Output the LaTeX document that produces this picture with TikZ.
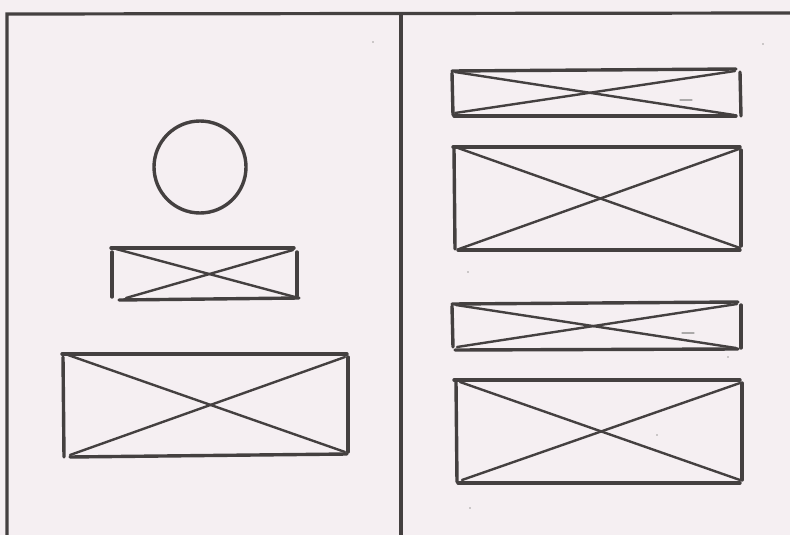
\documentclass[tikz,border=0pt]{standalone}
\definecolor{bg}{HTML}{F5EFF2}
\definecolor{ink}{HTML}{444040}
\begin{document}
\begin{tikzpicture}[x=1pt,y=-1pt,
  frame/.style={draw=ink,line width=3.2pt,line cap=round},
  edge/.style={draw=ink,line width=3.4pt,line cap=round},
  diag/.style={draw=ink,line width=2.4pt,line cap=round},
  speck/.style={draw=ink!45,line width=1.2pt,line cap=round}]
\fill[bg] (0,0) rectangle (790,535);
\useasboundingbox (0,0) rectangle (790,535);
% frame
\draw[frame] (7,535) -- (7,14) -- (790,13);
\draw[frame] (401,14) -- (401,535);
% circle
\draw[edge] (200,167) circle (46);
% left small box
\draw[edge] (111,248) -- (294,248);
\draw[edge] (297,252) -- (297,296);
\draw[edge] (119,300) -- (299,298);
\draw[edge] (112,252) -- (112,297);
\draw[diag] (116,249) -- (295,297);
\draw[diag] (126,298) -- (293,250);
% left big box
\draw[edge] (62,354) -- (347,354);
\draw[edge] (348,357) -- (348,452);
\draw[edge] (70,457) -- (347,454);
\draw[edge] (63,357) -- (64,457);
\draw[diag] (68,355) -- (345,452);
\draw[diag] (70,455) -- (345,357);
% right box 1
\draw[edge] (452,71) -- (736,69);
\draw[edge] (740,72) -- (741,116);
\draw[edge] (454,116) -- (736,116);
\draw[edge] (452,73) -- (453,115);
\draw[diag] (455,72) -- (734,115);
\draw[diag] (455,113) -- (735,71);
% right box 2
\draw[edge] (453,147) -- (740,147);
\draw[edge] (741,150) -- (741,246);
\draw[edge] (458,250) -- (740,250);
\draw[edge] (454,149) -- (455,249);
\draw[diag] (458,148) -- (740,248);
\draw[diag] (459,249) -- (739,149);
% right box 3
\draw[edge] (452,304) -- (738,302);
\draw[edge] (741,305) -- (741,348);
\draw[edge] (455,350) -- (738,349);
\draw[edge] (452,306) -- (453,347);
\draw[diag] (456,305) -- (736,348);
\draw[diag] (457,347) -- (737,304);
% right box 4
\draw[edge] (454,380) -- (740,380);
\draw[edge] (742,383) -- (742,480);
\draw[edge] (458,483) -- (740,483);
\draw[edge] (456,382) -- (457,482);
\draw[diag] (460,382) -- (740,480);
\draw[diag] (462,480) -- (740,383);
% specks
\draw[speck] (680,100) -- (692,100);
\draw[speck] (682,333) -- (694,333);
\fill[ink!50] (373,42) circle (0.8);
\fill[ink!50] (763,44) circle (0.8);
\fill[ink!50] (468,272) circle (0.8);
\fill[ink!50] (728,357) circle (0.8);
\fill[ink!50] (470,508) circle (0.8);
\fill[ink!50] (657,435) circle (0.8);
\end{tikzpicture}
\end{document}
